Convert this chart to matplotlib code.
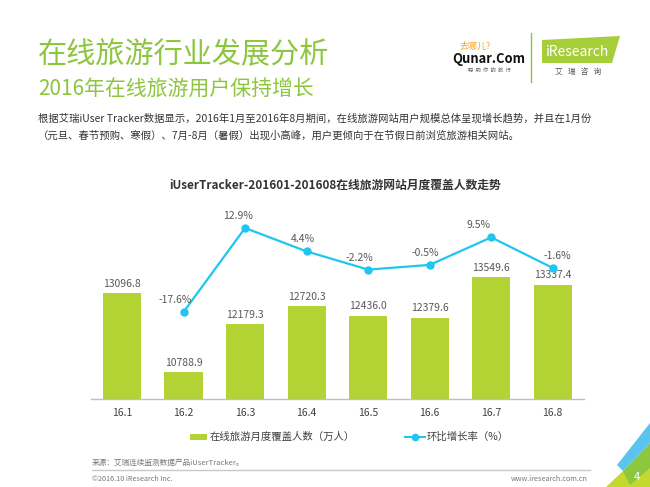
import matplotlib.pyplot as plt
import matplotlib.patches as patches

plt.rcParams['font.family'] = ['Noto Sans CJK SC', 'DejaVu Sans']

months = ["16.1", "16.2", "16.3", "16.4", "16.5", "16.6", "16.7", "16.8"]
users = [13096.8, 10788.9, 12179.3, 12720.3, 12436.0, 12379.6, 13549.6, 13337.4]
growth = [None, -17.6, 12.9, 4.4, -2.2, -0.5, 9.5, -1.6]

bar_name = "在线旅游月度覆盖人数（万人）"
line_name = "环比增长率（%）"
chart_title = "iUserTracker-201601-201608在线旅游网站月度覆盖人数走势"

GREEN = "#b3d234"
CYAN = "#1ec6f0"
TITLE_GREEN = "#8cc63f"
DARK = "#404040"

W, H = 650, 487
fig = plt.figure(figsize=(6.5, 4.87), dpi=100)

# page decoration in pixel coordinates
deco = fig.add_axes([0, 0, 1, 1])
deco.set_xlim(0, W)
deco.set_ylim(H, 0)
deco.axis("off")

deco.text(38, 55, "在线旅游行业发展分析", fontsize=21, color=TITLE_GREEN, va="center")
deco.text(38, 90, "2016年在线旅游用户保持增长", fontsize=15, color=TITLE_GREEN, va="center")
deco.text(38, 118, "根据艾瑞iUser Tracker数据显示，2016年1月至2016年8月期间，在线旅游网站用户规模总体呈现增长趋势，并且在1月份",
          fontsize=7.45, color="#333333", va="center")
deco.text(38, 135, "（元旦、春节预购、寒假）、7月-8月（暑假）出现小高峰，用户更倾向于在节假日前浏览旅游相关网站。",
          fontsize=7.45, color="#333333", va="center")

# logos
deco.text(475, 46, "去哪儿?", fontsize=6.5, color="#f5a623", va="center", ha="center")
deco.text(489, 59, "Qunar.Com", fontsize=9.3, fontweight="bold", color="#111111", va="center", ha="center")
deco.text(489, 70, "聪  明  你  的  旅  行", fontsize=3.8, color="#666666", va="center", ha="center")
deco.plot([531, 531], [33, 82], color=TITLE_GREEN, lw=1)
deco.add_patch(patches.Polygon([(542, 40), (620, 36), (612, 63), (542, 63)], closed=True,
                               facecolor="#a6ce39", edgecolor="none"))
deco.text(546, 52, "iResearch", fontsize=10, color="white", va="center")
deco.text(578, 72, "艾   瑞   咨   询", fontsize=5.5, color="#555555", va="center", ha="center")

deco.text(335, 185, chart_title, fontsize=8.5, fontweight="bold", color="#333333", ha="center", va="center")

# legend
deco.add_patch(patches.Rectangle((190, 434), 17, 6, facecolor=GREEN, edgecolor="none"))
deco.text(210, 437, bar_name, fontsize=7.5, color=DARK, va="center")
deco.plot([405, 425], [437, 437], color=CYAN, lw=1.5)
deco.plot([415], [437], "o", color=CYAN, ms=4.5)
deco.text(427, 437, line_name, fontsize=7.5, color=DARK, va="center")

# footer
deco.text(92, 463, "来源：艾瑞连续监测数据产品iUserTracker。", fontsize=5.5, color="#777777", va="center")
deco.plot([92, 590], [470, 470], color="#c8c8c8", lw=1)
deco.text(92, 479, "©2016.10 iResearch Inc.", fontsize=5.2, color="#777777", va="center")
deco.text(588, 479, "www.iresearch.com.cn", fontsize=5.2, color="#777777", va="center", ha="right")

# corner shapes
deco.add_patch(patches.Polygon([(606, 487), (623, 471), (650, 452), (650, 487)], closed=True,
                               facecolor="#c4d82e", edgecolor="none"))
deco.add_patch(patches.Polygon([(623, 471), (650, 443), (650, 468), (630, 485)], closed=True,
                               facecolor="#8dc63f", edgecolor="none"))
deco.add_patch(patches.Polygon([(617, 465), (650, 423), (650, 443), (623, 471)], closed=True,
                               facecolor="#5bc4ee", edgecolor="none"))
deco.text(637, 477, "4", fontsize=8, color="white", va="center", ha="center")

# chart
ax = fig.add_axes([91.25 / W, 1 - 399.3 / H, 492.25 / W, 199.3 / H])
ax.patch.set_alpha(0)
x = range(len(months))
bars = ax.bar(x, users, width=0.62, color=GREEN, zorder=2)
ax.set_xlim(-0.5, len(months) - 0.5)
ax.set_ylim(10000, 15800)
ax.set_xticks(list(x))
ax.set_xticklabels(months, fontsize=7.5, color=DARK)
ax.tick_params(axis="x", length=0, pad=6)
ax.set_yticks([])
for s in ["top", "left", "right"]:
    ax.spines[s].set_visible(False)
ax.spines["bottom"].set_color("#bfbfbf")
ax.spines["bottom"].set_linewidth(1)
for xi, v in zip(x, users):
    ax.annotate(f"{v:.1f}", (xi, v), xytext=(0, 3), textcoords="offset points",
                ha="center", va="bottom", fontsize=7.5, color="#595959")

ax2 = ax.twinx()
lx = [i for i, g in enumerate(growth) if g is not None]
ly = [g for g in growth if g is not None]
ax2.plot(lx, ly, color=CYAN, lw=1.6, marker="o", ms=5, zorder=3)
ax2.set_ylim(-49.3, 23.07)
ax2.set_yticks([])
for s in ["top", "left", "right", "bottom"]:
    ax2.spines[s].set_visible(False)
dx = [-6, -5, -3, -6, -3, -9, 3]
for xi, g, d in zip(lx, ly, dx):
    ax2.annotate(f"{g:.1f}%", (xi, g), xytext=(d, 5), textcoords="offset points",
                 ha="center", va="bottom", fontsize=7.5, color="#595959")

fig.savefig("out.png", dpi=100)
